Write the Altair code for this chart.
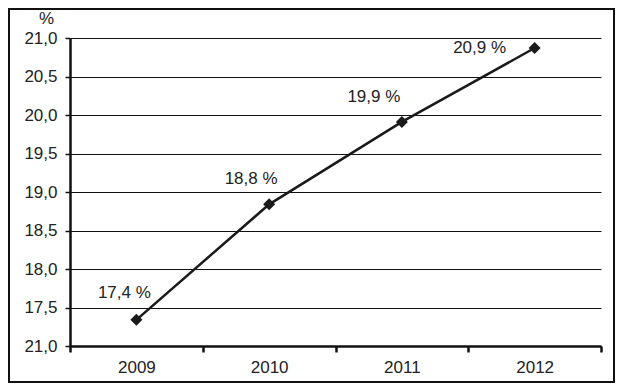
import altair as alt
import pandas as pd

years = ["2009", "2010", "2011", "2012"]
values = [17.34, 18.84, 19.91, 20.87]
labels = ["17,4 %", "18,8 %", "19,9 %", "20,9 %"]
y_ticks = [17.0, 17.5, 18.0, 18.5, 19.0, 19.5, 20.0, 20.5, 21.0]

# label offsets (style only)
label_dx = [-12, -18, -28, -55]
label_dy = [-27, -25, -25, 0]

df = pd.DataFrame({"year": years, "value": values, "label": labels})

W, H = 531, 308
PL, PT, PR, PB = 62, 30, 14, 37
FONT = "Liberation Sans"
FS = 17

x = alt.X("year:N", sort=years, title=None,
          scale=alt.Scale(paddingInner=0, paddingOuter=0),
          axis=alt.Axis(tickBand="extent", labelAngle=0, labelFontSize=FS,
                        labelColor="#222", labelFont=FONT, labelPadding=7,
                        domainColor="#111", domainWidth=2.5, tickColor="#111",
                        tickWidth=2.5, tickSize=6, grid=False))
y = alt.Y("value:Q", title="%",
          scale=alt.Scale(domain=[17, 21], nice=False, zero=False),
          axis=alt.Axis(values=y_ticks, labelOverlap=False,
                        labelExpr="datum.value == 17 ? '21,0' : replace(format(datum.value, '.1f'), '.', ',')",
                        labelFontSize=FS, labelColor="#222", labelFont=FONT, labelPadding=8,
                        domainColor="#111", domainWidth=2.5, tickColor="#111", tickWidth=1.5,
                        tickSize=5, grid=True, gridColor="#111", gridWidth=1,
                        titleAngle=0, titleFontSize=FS, titleFontWeight="normal",
                        titleFont=FONT, titleColor="#222", titleX=-24, titleY=-11,
                        titleAlign="center", titleBaseline="bottom"))

base = alt.Chart(df)

line = base.mark_line(color="#1a1a1a", strokeWidth=2.5).encode(x=x, y=y)
pts = base.mark_point(shape="diamond", filled=True, color="#1a1a1a", size=145, opacity=1).encode(x=x, y=y)

text_layers = []
for i, yr in enumerate(years):
    t = base.transform_filter(alt.datum.year == yr).mark_text(
        font=FONT, fontSize=FS, color="#222", dx=label_dx[i], dy=label_dy[i]
    ).encode(x=x, y=y, text="label:N")
    text_layers.append(t)

frame = alt.Chart(pd.DataFrame({"a": [0]})).mark_rect(
    fill=None, stroke="#111", strokeWidth=2
).encode(x=alt.value(-PL + 1), x2=alt.value(W + PR - 1),
         y=alt.value(-PT + 1), y2=alt.value(H + PB - 1))

chart = alt.layer(line, pts, *text_layers, frame).properties(
    width=W, height=H,
    padding={"left": PL, "top": PT, "right": PR, "bottom": PB},
    autosize=alt.AutoSizeParams(type="none"),
    background="white",
).configure_view(stroke=None)

chart.save("out.html", embed_options={"renderer": "svg", "actions": False})
